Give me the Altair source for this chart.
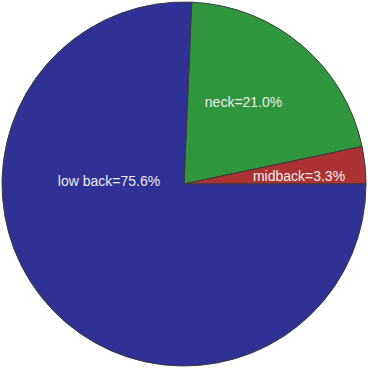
import altair as alt
import pandas as pd
import math

parts = ["neck", "midback", "low back"]
values = [21.0, 3.3, 75.6]
colors = ["#2f963d", "#ac3234", "#2f3194"]
order = [1, 2, 3]

df = pd.DataFrame({"part": parts, "value": values, "order": order})
df["label"] = [f"{p}={v:.1f}%" for p, v in zip(parts, values)]

offset = math.radians(2.43)

base = alt.Chart(df)

arcs = base.mark_arc(outerRadius=182, stroke="#3a3a3a", strokeWidth=1).encode(
    theta=alt.Theta("value:Q", stack=True,
                    scale=alt.Scale(range=[offset, offset + 2 * math.pi])),
    order=alt.Order("order:Q"),
    color=alt.Color("part:N", scale=alt.Scale(domain=parts, range=colors), legend=None),
)

labels = base.transform_calculate(
    la="datum.part == 'neck' ? 0.634 : datum.part == 'midback' ? 1.510 : 4.739",
    lr="datum.part == 'neck' ? 100.5 : datum.part == 'midback' ? 115.2 : 75",
).mark_text(font="Liberation Sans", fontSize=14, color="#ececec",
            align="center", baseline="middle").encode(
    theta=alt.Theta("la:Q", scale=None),
    radius=alt.Radius("lr:Q", scale=None),
    text="label:N",
)

chart = alt.layer(arcs, labels).properties(
    width=368, height=368, padding=0, autosize="none"
).configure_view(stroke=None)

chart.save("out.html", embed_options={"renderer": "svg", "actions": False})
